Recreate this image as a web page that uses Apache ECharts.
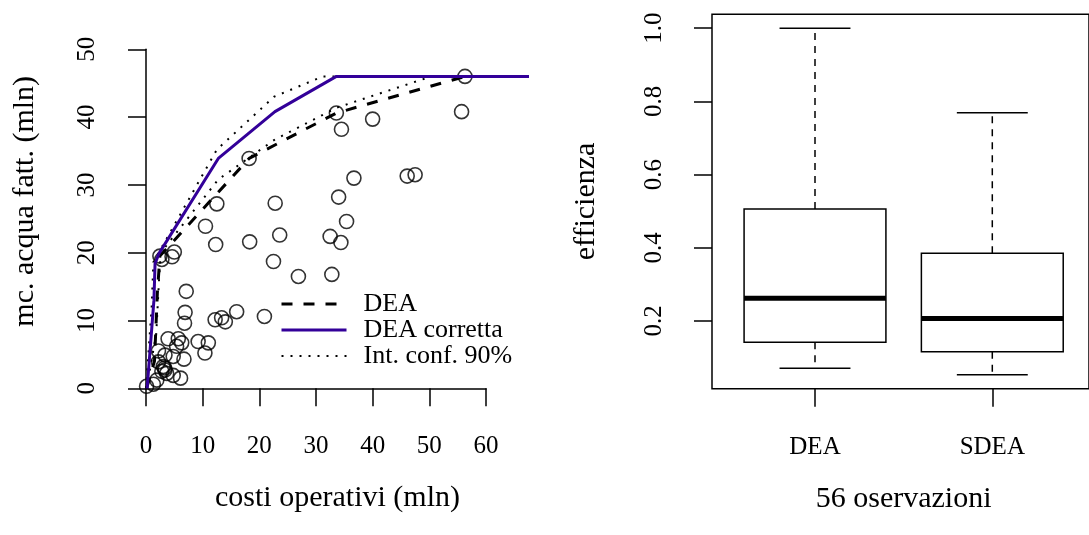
<!DOCTYPE html>
<html>
<head>
<meta charset="utf-8">
<script src="https://cdn.jsdelivr.net/npm/echarts@6/dist/echarts.min.js"></script>
<style>
  html, body { margin: 0; padding: 0; background: #fff; }
  #chart { width: 1089px; height: 535px; }
</style>
</head>
<body>
<div id="chart"></div>
<script>
// Operating costs (x) and billed water volume (y), millions, one value per utility
const costi = [0.1, 1.3, 1.9, 2.2, 2.2, 3.35, 4.8, 6.7, 3.05, 3.35,
  2.8, 3.65, 4.8, 6.1, 3.9, 5.7, 6.3, 5.4, 6.8, 6.9,
  7.1, 9.2, 11.0, 10.4, 12.2, 13.35, 14.0, 16.0, 20.9, 2.45,
  2.8, 4.6, 5.0, 10.5, 12.3, 18.3, 23.6, 22.5, 26.9, 32.8,
  32.5, 34.4, 35.4, 34.0, 36.7, 46.1, 47.5, 12.5, 22.8, 18.2,
  33.6, 34.5, 40.0, 55.7, 56.3, 3.3];
const acqua = [0.3, 0.6, 1.2, 5.5, 3.9, 4.9, 4.7, 4.3, 3.2, 2.7,
  2.5, 2.2, 1.9, 1.5, 7.3, 7.3, 6.7, 6.2, 9.6, 11.2,
  14.3, 6.9, 6.7, 5.2, 10.1, 10.4, 9.8, 11.3, 10.6, 19.5,
  19.0, 19.4, 20.1, 23.9, 21.2, 21.6, 22.6, 18.7, 16.5, 16.8,
  22.4, 21.5, 24.6, 28.2, 31.0, 31.3, 31.5, 27.2, 27.3, 33.9,
  40.6, 38.2, 39.7, 40.8, 46.0, 3.0];

// DEA frontier
const deaX = [0.1, 1.5, 2.0, 2.45, 18.2, 33.6, 56.3, 67.6];
const deaY = [0.0, 4.0, 14.0, 19.5, 33.9, 40.6, 46.0, 46.0];
// Bias-corrected DEA frontier
const corrX = [0.2, 1.4, 1.6, 2.3, 12.76, 22.76, 33.6, 67.6];
const corrY = [0.0, 13.0, 18.4, 19.9, 33.9, 40.8, 46.0, 46.0];
// 90% confidence band of the corrected frontier
const ciLoX = [0.1, 1.8, 2.3, 2.6, 12.76, 22.76, 33.7, 50.4, 67.6];
const ciLoY = [0.0, 8.0, 16.0, 20.0, 30.8, 36.7, 41.4, 46.0, 46.0];
const ciHiX = [0.0, 1.0, 1.3, 12.5, 22.6, 31.2, 67.6];
const ciHiY = [0.0, 12.0, 18.6, 35.2, 43.0, 46.0, 46.0];

// Efficiency scores: lower whisker, Q1, median, Q3, upper whisker
const boxNames = ['DEA', 'SDEA'];
const deaBox = [0.071, 0.142, 0.262, 0.506, 1.0];
const sdeaBox = [0.053, 0.116, 0.207, 0.385, 0.769];
const effTicks = [0.2, 0.4, 0.6, 0.8, 1.0];

const FONT = 'Liberation Serif';
const TICK = 25;
const TITLE = 30;

const pairs = (xs, ys) => xs.map((x, i) => [x, ys[i]]);
const boxData = [deaBox, sdeaBox].map((s, i) => [i].concat(s));

const chart = echarts.init(document.getElementById('chart'), null, { renderer: 'canvas' });

const hidden = { axisLine: { show: false }, axisTick: { show: false }, axisLabel: { show: false }, splitLine: { show: false } };
const axLine = { show: true, lineStyle: { color: '#000', width: 1.5 } };
const axTick = { show: true, length: 18, lineStyle: { color: '#000', width: 1.5 } };
// frontier lines carry no point markers, in the plot or in the key
const noMarker = { color: 'transparent', borderWidth: 0, opacity: 0 };

chart.setOption({
  animation: false,
  backgroundColor: '#fff',
  textStyle: { fontFamily: FONT, color: '#000' },
  grid: [
    { left: 146, top: 49.3, width: 340, height: 339 },       // axes of the scatter panel
    { left: 146, top: 14.3, width: 383, height: 374 },       // plotting region of the scatter panel
    { left: 712, top: 14.3, width: 383, height: 374.4, show: true, borderColor: '#000', borderWidth: 1.5, backgroundColor: 'transparent' },
    { left: 726.35, top: 14.3, width: 354.6, height: 374.4 }
  ],
  xAxis: [
    { gridIndex: 0, type: 'value', min: 0, max: 60, interval: 10,
      axisLine: axLine, axisTick: axTick, splitLine: { show: false },
      axisLabel: { margin: 46, fontSize: TICK, fontFamily: FONT, color: '#000' } },
    { gridIndex: 1, type: 'value', min: 0, max: 67.6, ...hidden,
      name: 'costi operativi (mln)', nameLocation: 'middle', nameGap: 95,
      nameTextStyle: { fontSize: TITLE, fontFamily: FONT, color: '#000' } },
    { gridIndex: 2, type: 'value', min: 0.42, max: 2.58, ...hidden },
    { gridIndex: 3, type: 'category', data: boxNames,
      axisLine: { show: false }, splitLine: { show: false },
      axisTick: { show: true, alignWithLabel: true, length: 18, lineStyle: { color: '#000', width: 1.5 } },
      axisLabel: { margin: 46, fontSize: TICK, fontFamily: FONT, color: '#000' },
      name: '56 oservazioni', nameLocation: 'middle', nameGap: 95,
      nameTextStyle: { fontSize: TITLE, fontFamily: FONT, color: '#000' } }
  ],
  yAxis: [
    { gridIndex: 0, type: 'value', min: 0, max: 50, interval: 10,
      axisLine: axLine, axisTick: axTick, splitLine: { show: false },
      axisLabel: { margin: 46, rotate: 90, fontSize: TICK, fontFamily: FONT, color: '#000' } },
    { gridIndex: 1, type: 'value', min: 0, max: 55.16, ...hidden,
      name: 'mc. acqua fatt. (mln)', nameLocation: 'middle', nameGap: 106,
      nameTextStyle: { fontSize: TITLE, fontFamily: FONT, color: '#000' } },
    { gridIndex: 2, type: 'value', min: 0.015, max: 1.038,
      axisLine: { show: false }, splitLine: { show: false },
      axisTick: { show: true, length: 18, customValues: effTicks, lineStyle: { color: '#000', width: 1.5 } },
      axisLabel: { margin: 45, rotate: 90, fontSize: TICK, fontFamily: FONT, color: '#000',
        customValues: effTicks, formatter: v => v.toFixed(1) },
      name: 'efficienza', nameLocation: 'middle', nameGap: 111,
      nameTextStyle: { fontSize: TITLE, fontFamily: FONT, color: '#000' } },
    { gridIndex: 3, type: 'value', min: 0.015, max: 1.038, ...hidden }
  ],
  legend: {
    data: ['DEA', 'DEA corretta', 'Int. conf. 90%'],
    orient: 'vertical', left: 280, top: 291, padding: 0,
    itemWidth: 65, itemHeight: 26, itemGap: 0,
    selectedMode: false,
    itemStyle: { opacity: 0, borderWidth: 0 },
    lineStyle: { width: 'inherit', opacity: 1 },
    textStyle: { fontSize: 26, fontFamily: FONT, color: '#000', lineHeight: 26, padding: [0, 0, 0, 12] }
  },
  series: [
    { type: 'line', name: 'Int. conf. 90%', xAxisIndex: 1, yAxisIndex: 1, data: pairs(ciHiX, ciHiY),
      symbol: 'none', itemStyle: noMarker, lineStyle: { color: '#000', width: 2, type: [2, 7] }, silent: true },
    { type: 'line', name: 'Int. conf. 90%', xAxisIndex: 1, yAxisIndex: 1, data: pairs(ciLoX, ciLoY),
      symbol: 'none', itemStyle: noMarker, lineStyle: { color: '#000', width: 2, type: [2, 7] }, silent: true },
    { type: 'line', name: 'DEA', xAxisIndex: 1, yAxisIndex: 1, data: pairs(deaX, deaY),
      symbol: 'none', itemStyle: noMarker, lineStyle: { color: '#000', width: 3, type: [11, 11] }, silent: true },
    { type: 'line', name: 'DEA corretta', xAxisIndex: 1, yAxisIndex: 1, data: pairs(corrX, corrY),
      symbol: 'none', itemStyle: noMarker, lineStyle: { color: '#330099', width: 3 }, silent: true },
    { type: 'scatter', name: 'osservazioni', xAxisIndex: 1, yAxisIndex: 1, data: pairs(costi, acqua),
      symbol: 'circle', symbolSize: 14,
      itemStyle: { color: 'transparent', borderColor: '#000', borderWidth: 1.6 }, silent: true },
    { type: 'custom', name: 'efficienza', xAxisIndex: 3, yAxisIndex: 3, data: boxData, silent: true,
      renderItem: function (params, api) {
        const i = api.value(0);
        const p = k => api.coord([i, api.value(k)]);
        const lo = p(1), q1 = p(2), med = p(3), q3 = p(4), hi = p(5);
        const half = api.size([1, 0])[0] * 0.4;
        const cap = half / 2;
        const cx = lo[0];
        const thin = { stroke: '#000', lineWidth: 1.5, fill: null };
        const dash = { stroke: '#000', lineWidth: 1.5, lineDash: [7, 6] };
        return { type: 'group', children: [
          { type: 'line', shape: { x1: cx, y1: q3[1], x2: cx, y2: hi[1] }, style: dash },
          { type: 'line', shape: { x1: cx, y1: q1[1], x2: cx, y2: lo[1] }, style: dash },
          { type: 'line', shape: { x1: cx - cap, y1: hi[1], x2: cx + cap, y2: hi[1] }, style: thin },
          { type: 'line', shape: { x1: cx - cap, y1: lo[1], x2: cx + cap, y2: lo[1] }, style: thin },
          { type: 'rect', shape: { x: cx - half, y: q3[1], width: 2 * half, height: q1[1] - q3[1] },
            style: { stroke: '#000', lineWidth: 1.5, fill: '#fff' } },
          { type: 'line', shape: { x1: cx - half, y1: med[1], x2: cx + half, y2: med[1] },
            style: { stroke: '#000', lineWidth: 5 } }
        ] };
      }
    }
  ]
});
</script>
</body>
</html>
